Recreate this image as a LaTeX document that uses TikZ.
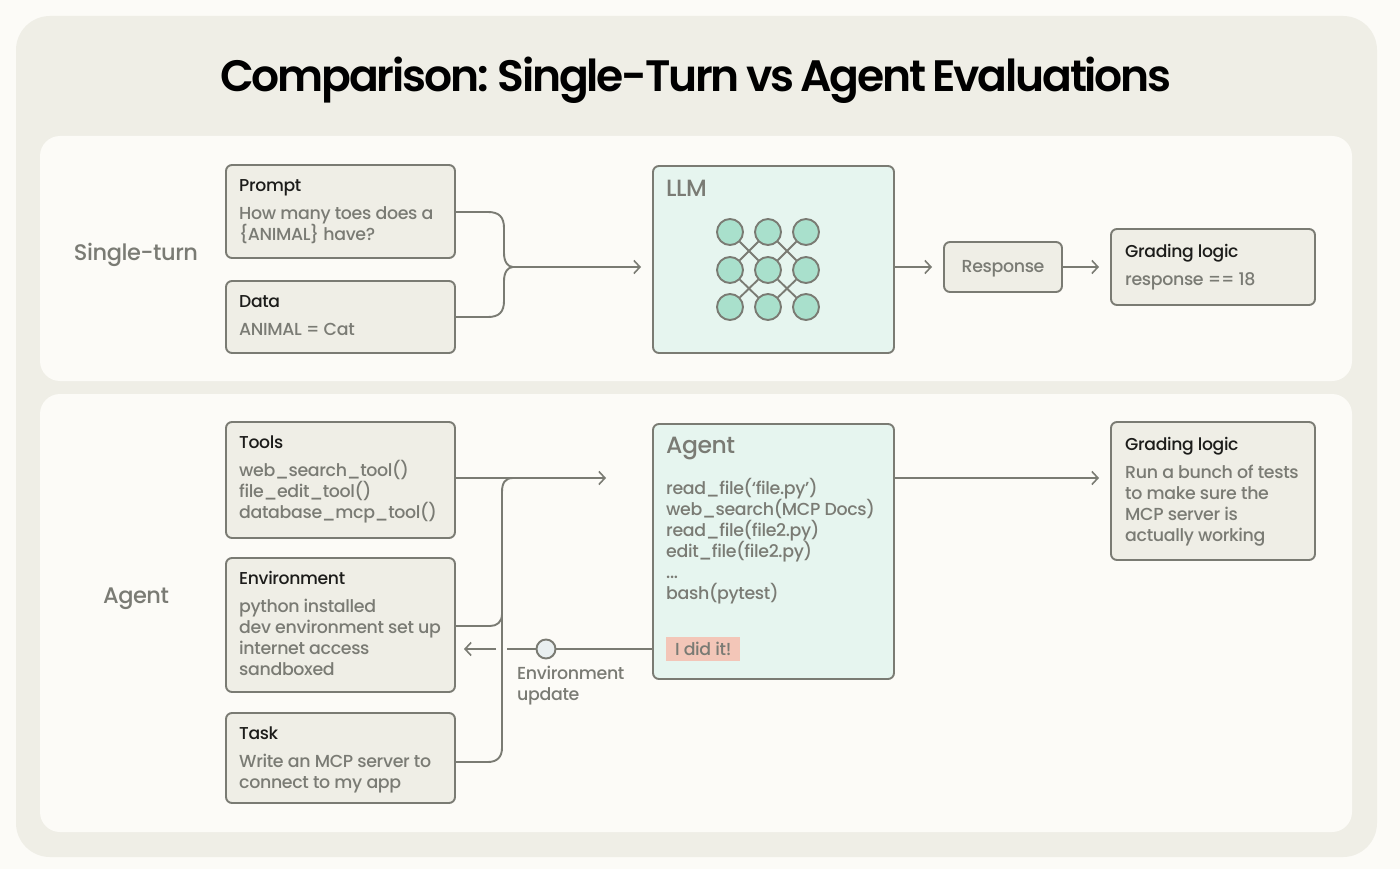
\documentclass[tikz,border=0pt]{standalone}
\usepackage{fontspec}
\setmainfont{Poppins Medium}[BoldFont={Poppins Medium},LetterSpace=-2]
\newfontfamily\titlefont{Poppins SemiBold}[LetterSpace=-5,WordSpace=0.75]
\usepackage{xcolor}
\definecolor{mypage}{HTML}{FCFBF7}
\definecolor{mypanel}{HTML}{EFEEE6}
\definecolor{myline}{HTML}{7A7B73}
\definecolor{mytext}{HTML}{7A7B74}
\definecolor{myink}{HTML}{1C1C1A}
\definecolor{mymint}{HTML}{E6F5EF}
\definecolor{mygreen}{HTML}{A9E0CC}
\definecolor{mysalmon}{HTML}{F3C6B8}
\definecolor{mydot}{HTML}{E9EFF0}
\usetikzlibrary{arrows.meta}
\tikzset{
  x=1pt,y=-1pt,
  box/.style={draw=myline,line width=1.9pt,fill=mypanel,rounded corners=6pt,inner sep=0pt,outer sep=0pt,anchor=north west},
  bigbox/.style={box,fill=mymint},
  head/.style={anchor=north west,inner sep=0pt,text=myink,font=\fontsize{17.2}{21}\selectfont},
  body/.style={anchor=north west,inner sep=0pt,text=mytext,align=left,font=\fontsize{17.4}{21}\selectfont},
  bighead/.style={anchor=north west,inner sep=0pt,text=mytext,font=\fontsize{23.5}{26}\selectfont},
  rowlabel/.style={inner sep=0pt,text=mytext,font=\fontsize{22.5}{26}\selectfont},
  link/.style={draw=myline,line width=1.9pt},
  arrow/.style={link,-{Straight Barb[length=6pt,width=13pt,line width=1.6pt]}},
  neuron/.style={circle,draw=myline,line width=1.9pt,fill=mygreen,minimum size=26pt,inner sep=0pt},
}
\begin{document}
\begin{tikzpicture}
        \useasboundingbox[fill=mypage] (0,0) rectangle (1400,869);
        \fill[mypanel,rounded corners=34pt] (16,16) rectangle (1377,857);
        \fill[mypage,rounded corners=20pt] (40,136) rectangle (1352,381);
        \fill[mypage,rounded corners=20pt] (40,394) rectangle (1352,832);
        \node[inner sep=0pt,text=black,font=\fontsize{44}{50}\titlefont] (title) at (696,80) {Comparison: Single-Turn vs Agent Evaluations};

        \node[rowlabel] (singlelabel) at (136,255) {Single-turn};
        \node[rowlabel] (agentlabel) at (136,599) {Agent};

        \node[box,minimum width=229pt,minimum height=93pt] (prompt) at (226,165) {};
        \node[head] (prompthead) at (239,179) {Prompt};
        \node[body] (prompttext) at (239,206) {How many toes does a\\\{ANIMAL\} have?};
        \node[box,minimum width=229pt,minimum height=72pt] (data) at (226,281) {};
        \node[head] (datahead) at (239,295) {Data};
        \node[body] (datatext) at (239,323) {ANIMAL = Cat};

        \node[bigbox,minimum width=241pt,minimum height=187pt] (llm) at (653,166) {};
        \node[bighead] (llmhead) at (666,180) {LLM};
        \foreach \r/\ypos in {a/232,b/270,c/307}
          \foreach \c/\xpos in {1/730,2/768,3/806}
            \node[neuron] (n\r\c) at (\xpos,\ypos) {};
        \foreach \s/\t in {a1/b2,a2/b1,a2/b3,a3/b2,b1/c2,b2/c1,b2/c3,b3/c2}
          \draw[link] (n\s) -- (n\t);

        \node[box,minimum width=118pt,minimum height=50pt] (response) at (944,242) {};
        \node[body] (responsetext) at ([yshift=-2pt]response.center) [anchor=center] {Response};
        \node[box,minimum width=204pt,minimum height=76pt] (grade) at (1111,229) {};
        \node[head] (gradehead) at (1125,244) {Grading logic};
        \node[body] (gradetext) at (1125,272) {response == 18};

        \coordinate (merge) at (513,267);
        \coordinate (llmin) at (641,267);
        \draw[link] (prompt.east |- 0,212) -- (488,212) .. controls (499,212) and (504,217) .. (504,228) -- (504,253) .. controls (504,262) and (508,267) .. (merge);
        \draw[link] (data.east |- 0,317) -- (488,317) .. controls (499,317) and (504,312) .. (504,301) -- (504,281) .. controls (504,272) and (508,267) .. (merge);
        \draw[arrow] (merge) -- (llmin);
        \coordinate (respin) at (932,267);
        \draw[arrow] (llm.east |- respin) -- (respin);
        \coordinate (gradein) at (1099,267);
        \draw[arrow] (response.east |- gradein) -- (gradein);

        \node[box,minimum width=229pt,minimum height=116pt] (tools) at (226,422) {};
        \node[head] (toolshead) at (239,436) {Tools};
        \node[body] (toolstext) at (239,460) {web\_search\_tool()\\file\_edit\_tool()\\database\_mcp\_tool()};
        \node[box,minimum width=229pt,minimum height=134pt] (env) at (226,558) {};
        \node[head] (envhead) at (239,571) {Environment};
        \node[body] (envtext) at (239,599) {python installed\\dev environment set up\\internet access\\sandboxed};
        \node[box,minimum width=229pt,minimum height=90pt] (task) at (226,713) {};
        \node[head] (taskhead) at (239,727) {Task};
        \node[body] (tasktext) at (239,754) {Write an MCP server to\\connect to my app};

        \node[bigbox,minimum width=241pt,minimum height=255pt] (agent) at (653,424) {};
        \node[bighead] (agenthead) at (666,437) {Agent};
        \node[body] (agenttext) at (666,478) {read\_file(‘file.py’)\\web\_search(MCP Docs)\\read\_file(file2.py)\\edit\_file(file2.py)\\...\\bash(pytest)};
        \node[anchor=north west,fill=mysalmon,inner sep=0pt,minimum width=74pt,minimum height=24pt,text=mytext,font=\fontsize{17.4}{21}\selectfont] (done) at (666,637) {\raisebox{-1.5pt}{I did it!}};

        \node[box,minimum width=204pt,minimum height=138pt] (gradeagent) at (1111,422) {};
        \node[head] (gradeagenthead) at (1125,437) {Grading logic};
        \node[body] (gradeagenttext) at (1125,465) {Run a bunch of tests\\to make sure the\\MCP server is\\actually working};

        \coordinate (agentin) at (606,478);
        \coordinate (gradeagentin) at (1099,478);
        \draw[arrow] (tools.east |- agentin) -- (agentin);
        \draw[arrow] (agent.east |- gradeagentin) -- (gradeagentin);
        \draw[link] (task.east |- 0,762) -- (488,762) .. controls (497,762) and (502,757) .. (502,748) -- (502,492) .. controls (502,483) and (505,478) .. (513,478);
        \draw[link] (env.east |- 0,626) -- (490,626) .. controls (497,626) and (502,622) .. (502,614);

        \node[circle,draw=myline,line width=1.9pt,fill=mydot,minimum size=19pt,inner sep=0pt] (update) at (546,649) {};
        \coordinate (gapright) at (507,649);
        \coordinate (gapleft) at (496,649);
        \coordinate (envin) at (464,649);
        \draw[link] (agent.west |- update) -- (update);
        \draw[link] (update) -- (gapright);
        \draw[arrow] (gapleft) -- (envin);
        \node[body] (updatetext) at (517,666) {Environment\\update};
\end{tikzpicture}
\end{document}
